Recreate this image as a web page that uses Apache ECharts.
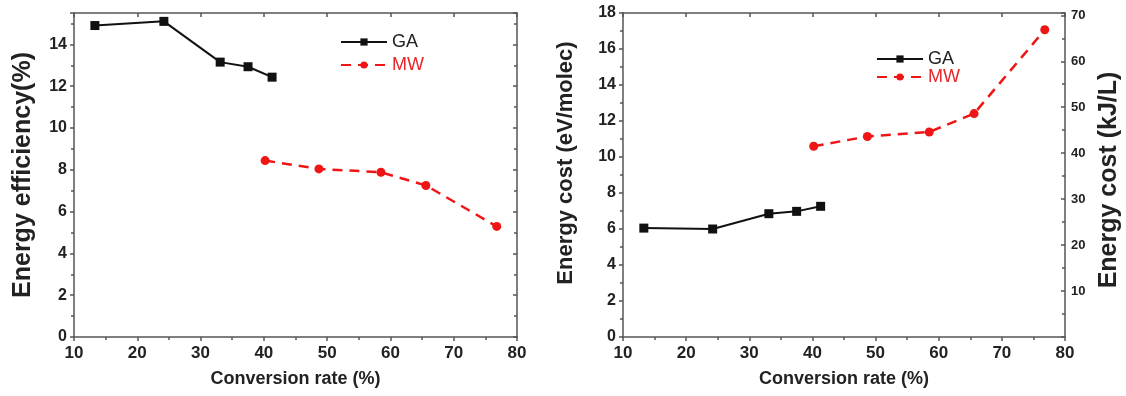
<!DOCTYPE html>
<html><head><meta charset="utf-8">
<script src="https://cdn.jsdelivr.net/npm/echarts@6/dist/echarts.min.js"></script>
<style>html,body{margin:0;padding:0;background:#fff}#c{width:1126px;height:396px}</style>
</head><body><div id="c"></div>
<script>
// Conversion rate (%)
const convGA = [13.3, 24.2, 33.1, 37.5, 41.3];
const convMW = [40.2, 48.7, 58.5, 65.6, 76.8];
// Energy efficiency (%)
const effGA = [14.9, 15.1, 13.15, 12.93, 12.43];
const effMW = [8.44, 8.04, 7.88, 7.25, 5.29];
// Energy cost (eV/molec)
const costGA = [6.05, 6.0, 6.85, 6.98, 7.26];
const costMW = [10.6, 11.14, 11.39, 12.41, 17.07];
const seriesNames = ['GA', 'MW'];
const xTitle = 'Conversion rate (%)';
const yTitleLeft = 'Energy efficiency(%)';
const yTitleRight1 = 'Energy cost (eV/molec)';
const yTitleRight2 = 'Energy cost (kJ/L)';

const pair = (xs, ys) => xs.map((x, i) => [x, ys[i]]);
const FONT = 'Liberation Sans, Arial, sans-serif';
const AX = '#555';
const TXT = '#222';

function xAxes(gi) {
  return [{
    type: 'value', gridIndex: gi, position: 'bottom', min: 10, max: 80, interval: 10,
    axisLine: {onZero: false, lineStyle: {color: AX, width: 1.5}},
    axisTick: {length: 4, lineStyle: {color: AX, width: 1.5}},
    minorTick: {show: true, splitNumber: 2, length: 3, lineStyle: {color: AX, width: 1.5}},
    splitLine: {show: false},
    axisLabel: {fontFamily: FONT, fontWeight: 'bold', fontSize: 17, color: TXT, margin: 8},
    name: xTitle, nameLocation: 'middle', nameGap: 33,
    nameTextStyle: {fontFamily: FONT, fontWeight: 'bold', fontSize: 18, color: TXT}
  }, {
    type: 'value', gridIndex: gi, position: 'top', min: 10, max: 80, interval: 10,
    axisLine: {onZero: false, lineStyle: {color: AX, width: 1.5}},
    axisTick: {inside: true, length: 4, lineStyle: {color: AX, width: 1.5}},
    minorTick: {show: false},
    splitLine: {show: false}, axisLabel: {show: false}
  }];
}

const option = {
  animation: false,
  backgroundColor: '#fff',
  grid: [
    {left: 74, top: 13, width: 443, height: 324},
    {left: 623, top: 13, width: 442, height: 324}
  ],
  legend: [
    {orient: 'vertical', left: 335, top: 28, itemWidth: 46, itemHeight: 9, itemGap: 5,
     textStyle: {fontFamily: FONT, fontSize: 18},
     data: [{name: 'GA', textStyle: {color: '#222'}}, {name: 'MW', textStyle: {color: '#e8262a'}}]},
    {orient: 'vertical', left: 871, top: 45, itemWidth: 46, itemHeight: 9, itemGap: 0,
     textStyle: {fontFamily: FONT, fontSize: 18},
     data: [{name: 'GA', textStyle: {color: '#222'}}, {name: 'MW', textStyle: {color: '#e8262a'}}]}
  ],
  xAxis: [...xAxes(0), ...xAxes(1)],
  yAxis: [
    {type: 'value', gridIndex: 0, position: 'left', min: 0, max: 15.5, interval: 2,
     axisLine: {show: true, onZero: false, lineStyle: {color: AX, width: 1.5}},
     axisTick: {show: true, length: 4, lineStyle: {color: AX, width: 1.5}},
     minorTick: {show: true, splitNumber: 2, length: 3, lineStyle: {color: AX, width: 1.5}},
     splitLine: {show: false},
     axisLabel: {fontFamily: FONT, fontWeight: 'bold', fontSize: 16, color: TXT, margin: 7,
       formatter: v => (Math.abs(v % 2) < 1e-9 ? String(v) : '')},
     name: yTitleLeft, nameLocation: 'middle', nameGap: 38,
     nameTextStyle: {fontFamily: FONT, fontWeight: 'bold', fontSize: 25, color: TXT}},
    {type: 'value', gridIndex: 0, position: 'right', min: 0, max: 15.5, interval: 2,
     axisLine: {show: true, onZero: false, lineStyle: {color: AX, width: 1.5}},
     axisTick: {show: true, inside: true, length: 4, lineStyle: {color: AX, width: 1.5}},
     minorTick: {show: true, splitNumber: 2, length: 3, lineStyle: {color: AX, width: 1.5}},
     splitLine: {show: false}, axisLabel: {show: false}},
    {type: 'value', gridIndex: 1, position: 'left', min: 0, max: 18, interval: 2,
     axisLine: {show: true, onZero: false, lineStyle: {color: AX, width: 1.5}},
     axisTick: {show: true, length: 4, lineStyle: {color: AX, width: 1.5}},
     minorTick: {show: true, splitNumber: 2, length: 3, lineStyle: {color: AX, width: 1.5}},
     splitLine: {show: false},
     axisLabel: {fontFamily: FONT, fontWeight: 'bold', fontSize: 16, color: TXT, margin: 7},
     name: yTitleRight1, nameLocation: 'middle', nameGap: 46,
     nameTextStyle: {fontFamily: FONT, fontWeight: 'bold', fontSize: 22, color: TXT, padding: [0, 0, 0, 24]}},
    {type: 'value', gridIndex: 1, position: 'right', min: 0, max: 70.5, interval: 10,
     axisLine: {show: true, onZero: false, lineStyle: {color: AX, width: 1.5}},
     axisTick: {show: true, inside: true, length: 4, lineStyle: {color: AX, width: 1.5}},
     minorTick: {show: true, splitNumber: 2, length: 3, lineStyle: {color: AX, width: 1.5}},
     splitLine: {show: false},
     axisLabel: {fontFamily: FONT, fontWeight: 'bold', fontSize: 13, color: TXT, margin: 6,
       formatter: v => (v > 0 && Math.abs(v % 10) < 1e-9 ? String(v) : '')},
     name: yTitleRight2, nameLocation: 'middle', nameGap: 32,
     nameTextStyle: {fontFamily: FONT, fontWeight: 'bold', fontSize: 25, color: TXT, padding: [0, 10, 0, 0]}}
  ],
  series: [
    {name: seriesNames[0], type: 'line', xAxisIndex: 0, yAxisIndex: 0, data: pair(convGA, effGA),
     symbol: 'rect', symbolSize: 9, itemStyle: {color: '#111'}, lineStyle: {color: '#111', width: 2}},
    {name: seriesNames[1], type: 'line', xAxisIndex: 0, yAxisIndex: 0, data: pair(convMW, effMW),
     symbol: 'circle', symbolSize: 9, itemStyle: {color: '#f01515'},
     lineStyle: {color: '#f01515', width: 2.5, type: [10, 7]}},
    {name: seriesNames[0], type: 'line', xAxisIndex: 2, yAxisIndex: 2, data: pair(convGA, costGA),
     symbol: 'rect', symbolSize: 9, itemStyle: {color: '#111'}, lineStyle: {color: '#111', width: 2}},
    {name: seriesNames[1], type: 'line', xAxisIndex: 2, yAxisIndex: 2, data: pair(convMW, costMW),
     symbol: 'circle', symbolSize: 9, itemStyle: {color: '#f01515'},
     lineStyle: {color: '#f01515', width: 2.5, type: [10, 7]}}
  ]
};
const chart = echarts.init(document.getElementById('c'), null, {renderer: 'canvas'});
chart.setOption(option);
</script></body></html>
